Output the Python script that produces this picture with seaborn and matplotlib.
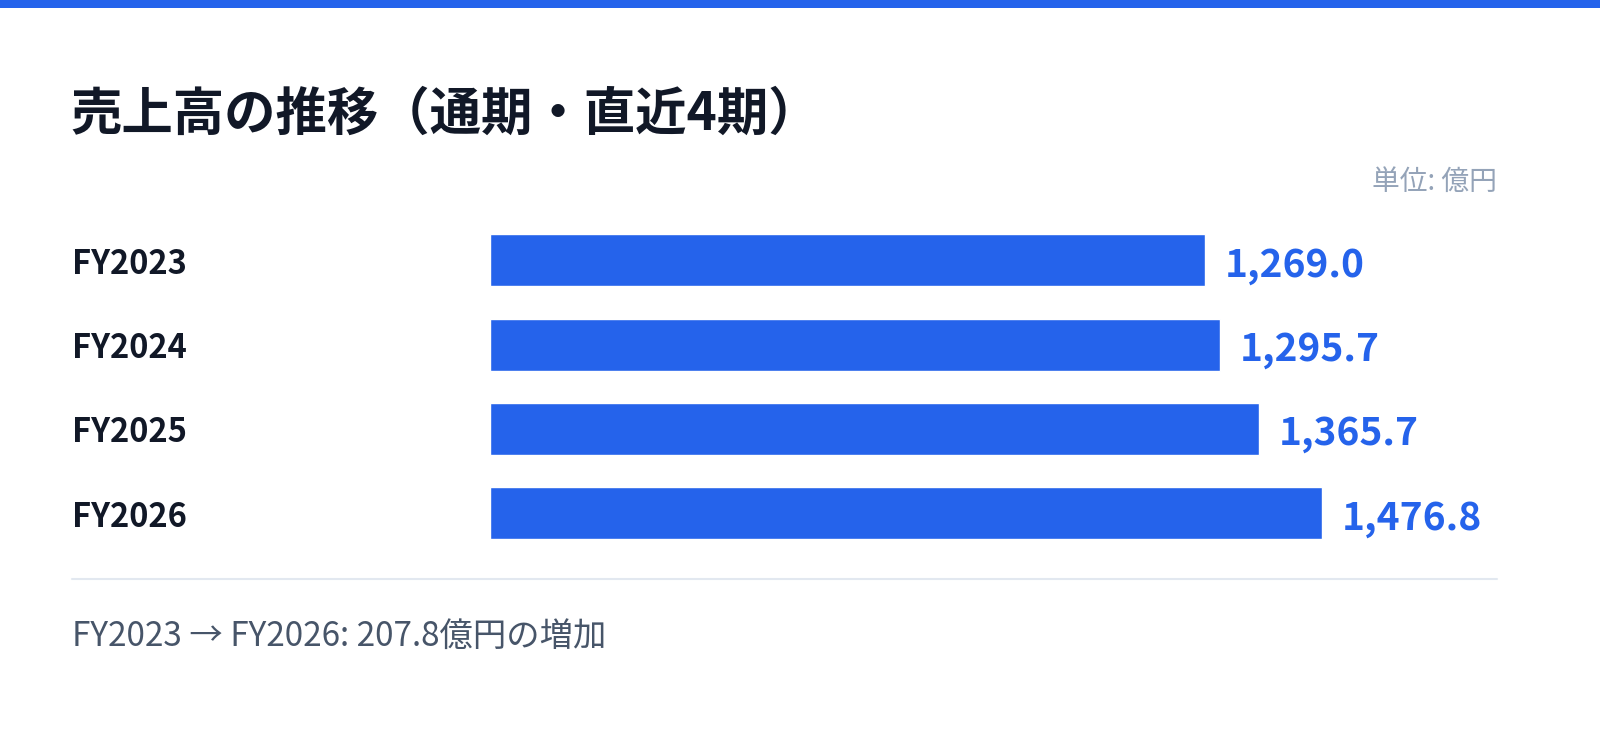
import matplotlib
matplotlib.use("Agg")
import matplotlib.pyplot as plt
import matplotlib.transforms as mtransforms
import seaborn as sns
import pandas as pd

# ---- data ----
categories = ["FY2023", "FY2024", "FY2025", "FY2026"]
values = [1269.0, 1295.7, 1365.7, 1476.8]
title_text = "売上高の推移（通期・直近4期）"
unit_text = "単位: 億円"
footer_text = "FY2023 → FY2026: 207.8億円の増加"

BLUE = "#2563EB"
DARK = "#111827"

sns.set_theme(style="white")
plt.rcParams["font.family"] = ["Noto Sans CJK JP", "DejaVu Sans"]

W, H = 1600, 733
fig = plt.figure(figsize=(W / 100, H / 100), dpi=100)
fig.patch.set_facecolor("white")

def fx(px):
    return px / W

def fy(py):
    return 1 - py / H

# top stripe
fig.add_artist(plt.Rectangle((0, fy(8)), 1, 8 / H, transform=fig.transFigure,
                             color=BLUE, lw=0))

# title
fig.text(fx(70), fy(114), title_text, fontsize=37, fontweight="bold",
         color=DARK, ha="left", va="center")
# unit
fig.text(fx(1497), fy(182), unit_text, fontsize=20, color="#94A3B8",
         ha="right", va="center")

# axes for bars
ax_left, ax_right = 490, 1497
ax_top, ax_bottom = 218, 555.5
ax = fig.add_axes([fx(ax_left), fy(ax_bottom), fx(ax_right - ax_left),
                   (ax_bottom - ax_top) / H])
df = pd.DataFrame({"category": categories, "value": values})
sns.barplot(data=df, x="value", y="category", orient="h", color=BLUE,
            saturation=1, width=0.615, ax=ax)
ax.set_xlim(0, (ax_right - ax_left) / 0.5634)
ax.set_ylim(len(categories) - 0.5, -0.5)
ax.axis("off")

for c in ax.containers:
    anns = ax.bar_label(c, labels=[f"{v:,.1f}" for v in values], padding=14,
                        fontsize=28, fontweight="bold", color=BLUE)
    for a in anns:
        a.xyann = (14, -3.5)

trans = mtransforms.blended_transform_factory(fig.transFigure, ax.transData)
off = mtransforms.ScaledTranslation(0, -4 / 100, fig.dpi_scale_trans)
for i, cat in enumerate(categories):
    ax.text(fx(72), i, cat, transform=trans + off, fontsize=23.5,
            fontweight="bold", color=DARK, ha="left", va="center",
            clip_on=False)

# separator
fig.add_artist(plt.Line2D([fx(72), fx(1497)], [fy(578.5), fy(578.5)],
                          transform=fig.transFigure, color="#E2E8F0", lw=1.5))

# footer
fig.text(fx(72), fy(636), footer_text, fontsize=24, color="#475569",
         ha="left", va="center")

fig.savefig("out.png", dpi=100, facecolor="white")
